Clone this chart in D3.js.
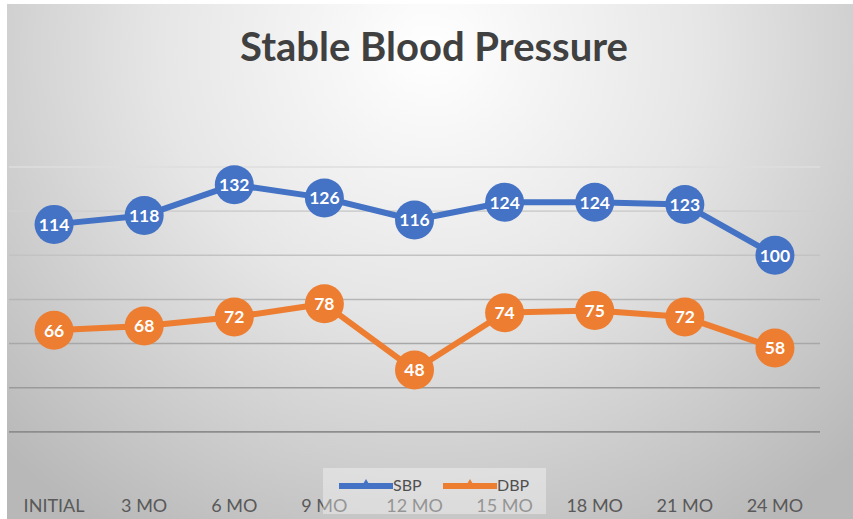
<!DOCTYPE html>
<html>
<head>
<meta charset="utf-8">
<script src="https://cdn.jsdelivr.net/npm/d3@7"></script>
<style>
  html, body { margin: 0; padding: 0; background: #ffffff; }
  svg { display: block; }
</style>
</head>
<body>
<svg id="chart" width="853" height="519"></svg>
<script>
// Blood pressure readings at each follow-up visit
const visits = ["INITIAL", "3 MO", "6 MO", "9 MO", "12 MO", "15 MO", "18 MO", "21 MO", "24 MO"];
const sbp = [114, 118, 132, 126, 116, 124, 124, 123, 100];
const dbp = [66, 68, 72, 78, 48, 74, 75, 72, 58];
const gridValues = [0, 20, 40, 60, 80, 100, 120, 140];
const seriesNames = ["SBP", "DBP"];
const seriesColors = ["#4472C4", "#ED7D31"];
const titleText = "Stable Blood Pressure";

const W = 853, H = 519;
const font = "Lato, 'Liberation Sans', sans-serif";
const svg = d3.select("#chart");
const defs = svg.append("defs");

// Soft radial backdrop, brightest behind the title
const bg = defs.append("radialGradient")
  .attr("id", "bgGrad")
  .attr("gradientUnits", "userSpaceOnUse")
  .attr("cx", 430).attr("cy", 50).attr("r", 600)
  .attr("gradientTransform", "translate(430,50) scale(1,0.95) translate(-430,-50)");
bg.append("stop").attr("offset", 0).attr("stop-color", "#ffffff");
bg.append("stop").attr("offset", 0.45).attr("stop-color", "#e6e6e6");
bg.append("stop").attr("offset", 1).attr("stop-color", "#b8b8b8");

svg.append("rect")
  .attr("x", 7).attr("y", 4)
  .attr("width", W - 7).attr("height", H - 4)
  .attr("fill", "url(#bgGrad)");

// Gridlines darken toward the bottom of the plot
const gridGrad = defs.append("linearGradient")
  .attr("id", "gridGrad")
  .attr("gradientUnits", "userSpaceOnUse")
  .attr("x1", 0).attr("y1", 160).attr("x2", 0).attr("y2", 440);
gridGrad.append("stop").attr("offset", 0).attr("stop-color", "#e0e0e0");
gridGrad.append("stop").attr("offset", 1).attr("stop-color", "#8a8a8a");

const plot = { left: 9, right: 820, top: 167, bottom: 476 };

const x = d3.scaleBand()
  .domain(visits)
  .range([plot.left, plot.right])
  .padding(0);
const cx = d => x(d) + x.bandwidth() / 2;

const y = d3.scaleLinear()
  .domain([0, 140])
  .range([plot.bottom, plot.top]);

// Horizontal gridlines
svg.append("g")
  .selectAll("line")
  .data(gridValues.filter(v => v > 0))
  .join("line")
  .attr("x1", plot.left).attr("x2", plot.right)
  .attr("y1", d => y(d)).attr("y2", d => y(d))
  .attr("stroke", "url(#gridGrad)")
  .attr("stroke-width", 1.6);

// Title
svg.append("text")
  .attr("x", 434).attr("y", 61)
  .attr("text-anchor", "middle")
  .attr("font-family", font)
  .attr("font-weight", 700)
  .attr("font-size", 40)
  .attr("fill", "#404040")
  .text(titleText);

// Category axis labels
const axisG = svg.append("g")
  .attr("transform", `translate(0,${plot.bottom})`)
  .call(d3.axisBottom(x).tickSize(0).tickPadding(0));
axisG.select(".domain").remove();
axisG.selectAll(".tick text")
  .attr("dy", 0)
  .attr("y", 36)
  .attr("font-family", font)
  .attr("font-size", 18)
  .attr("fill", "#595959");

// Series lines, markers and value labels
const series = [sbp, dbp].map((vals, i) => ({
  name: seriesNames[i],
  color: seriesColors[i],
  points: vals.map((v, j) => ({ cat: visits[j], value: v }))
}));

const line = d3.line()
  .x(d => cx(d.cat))
  .y(d => y(d.value));

const sg = svg.append("g").selectAll("g")
  .data(series)
  .join("g");

sg.append("path")
  .attr("d", d => line(d.points))
  .attr("fill", "none")
  .attr("stroke", d => d.color)
  .attr("stroke-width", 6)
  .attr("stroke-linejoin", "round");

sg.selectAll("circle")
  .data(d => d.points.map(p => ({ ...p, color: d.color })))
  .join("circle")
  .attr("cx", d => cx(d.cat))
  .attr("cy", d => y(d.value))
  .attr("r", 19.5)
  .attr("fill", d => d.color);

sg.selectAll("text")
  .data(d => d.points)
  .join("text")
  .attr("x", d => cx(d.cat))
  .attr("y", d => y(d.value))
  .attr("dy", "0.36em")
  .attr("text-anchor", "middle")
  .attr("font-family", font)
  .attr("font-weight", 700)
  .attr("font-size", 17.5)
  .attr("fill", "#ffffff")
  .text(d => d.value);

// Legend panel straddling the axis
const legend = svg.append("g");
const legendBox = legend.append("rect")
  .attr("x", 323).attr("y", 468)
  .attr("width", 223).attr("height", 46)
  .attr("fill", "#ffffff")
  .attr("fill-opacity", 0.36);

const items = legend.selectAll("g.item")
  .data(series)
  .join("g")
  .attr("class", "item")
  .attr("transform", (d, i) => `translate(${339 + i * 104},486)`);

items.append("line")
  .attr("x1", 0).attr("x2", 54)
  .attr("stroke", d => d.color)
  .attr("stroke-width", 6);
items.append("path")
  .attr("transform", "translate(27,-2)")
  .attr("d", d3.symbol(d3.symbolTriangle, 34))
  .attr("fill", d => d.color);
items.append("text")
  .attr("x", 54).attr("y", 5)
  .attr("font-family", font)
  .attr("font-size", 16)
  .attr("fill", "#505050")
  .text(d => d.name);

// Axis line, masked where the legend panel sits on it
const mask = defs.append("mask").attr("id", "axisMask");
mask.append("rect").attr("x", 0).attr("y", 0).attr("width", W).attr("height", H).attr("fill", "#fff");
mask.append("rect")
  .attr("x", +legendBox.attr("x")).attr("y", +legendBox.attr("y"))
  .attr("width", +legendBox.attr("width")).attr("height", +legendBox.attr("height"))
  .attr("fill", "#000");

svg.insert("line", "g")
  .attr("x1", plot.left + 3).attr("x2", plot.right)
  .attr("y1", plot.bottom).attr("y2", plot.bottom)
  .attr("stroke", "#404040")
  .attr("stroke-width", 3)
  .attr("mask", "url(#axisMask)");
</script>
</body>
</html>
